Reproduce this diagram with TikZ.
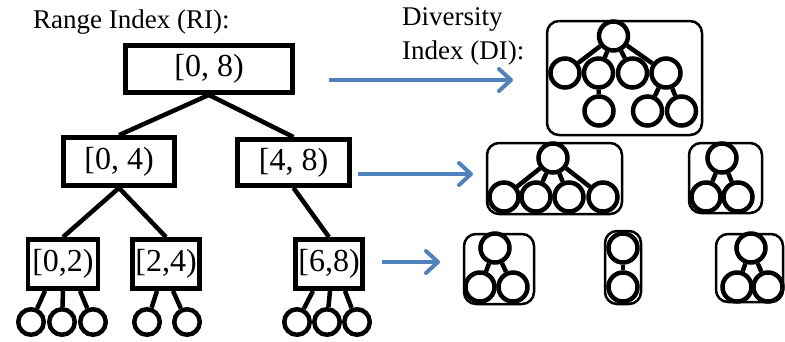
\documentclass[tikz,border=0pt]{standalone}
\usepackage{fontspec}
\setmainfont{Liberation Serif}
\usetikzlibrary{arrows.meta,calc}
\definecolor{arrowblue}{RGB}{79,129,189}
\begin{document}
\begin{tikzpicture}[x=1pt,y=-1pt,
  ribox/.style={draw, line width=4.8pt, rectangle, inner sep=0pt, font=\fontsize{32}{36}\selectfont},
  rileaf/.style={draw, circle, line width=4.5pt, minimum size=25.5pt, inner sep=0pt, fill=white},
  dinode/.style={draw, circle, line width=4.5pt, minimum size=29pt, inner sep=0pt, fill=white},
  dibox/.style={draw, line width=2.5pt, rounded corners=12pt, rectangle, inner sep=0pt},
  edge/.style={line width=4.5pt},
  bluearrow/.style={draw=arrowblue, line width=4pt, -{Straight Barb[length=12pt,width=22pt,round]}},
  lbl/.style={font=\fontsize{27}{32}\selectfont, inner sep=0pt, anchor=base west}
]
\useasboundingbox (0,0) rectangle (785,341);

% labels
\node[lbl] (ril) at (33,28) {Range Index (RI):};
\node[lbl] (dil1) at (402,25) {Diversity};
\node[lbl] (dil2) at (402,59) {Index (DI):};

% range index boxes
\node[ribox, minimum width=167pt, minimum height=47pt] (r08) at (209,69) {[0, 8)};
\node[ribox, minimum width=111pt, minimum height=48pt] (r04) at (119,161.5) {[0, 4)};
\node[ribox, minimum width=112pt, minimum height=46pt] (r48) at (293.5,162.5) {[4, 8)};
\node[ribox, minimum width=70pt, minimum height=49pt] (r02) at (63,264) {[0,2)};
\node[ribox, minimum width=67pt, minimum height=49pt] (r24) at (166,264) {[2,4)};
\node[ribox, minimum width=67pt, minimum height=49pt] (r68) at (329,264) {[6,8)};

\draw[edge] (r08.south) -- (r04.north);
\draw[edge] (r08.south) -- (r48.north);
\draw[edge] (r04.south) -- (r02.north);
\draw[edge] (r04.south) -- (r24.north);
\draw[edge] (r48.south) -- (r68.north);

% leaves
\node[rileaf] (l1) at (31,322) {};
\node[rileaf] (l2) at (62,322) {};
\node[rileaf] (l3) at (93,322) {};
\node[rileaf] (l4) at (147,322) {};
\node[rileaf] (l5) at (187,322) {};
\node[rileaf] (l6) at (297,322) {};
\node[rileaf] (l7) at (327,322) {};
\node[rileaf] (l8) at (357,322) {};

\draw[edge] ($(r02.south)+(-18,0)$) -- (l1);
\draw[edge] ($(r02.south)+(0,0)$) -- (l2);
\draw[edge] ($(r02.south)+(17,0)$) -- (l3);
\draw[edge] ($(r24.south)+(-9,0)$) -- (l4);
\draw[edge] ($(r24.south)+(7,0)$) -- (l5);
\draw[edge] ($(r68.south)+(-16,0)$) -- (l6);
\draw[edge] ($(r68.south)+(1,0)$) -- (l7);
\draw[edge] ($(r68.south)+(16,0)$) -- (l8);

% arrows
\coordinate (a1s) at (329,80);
\coordinate (a1e) at (513,80);
\coordinate (a2s) at (358,174);
\coordinate (a2e) at (473,174);
\coordinate (a3s) at (382,262);
\coordinate (a3e) at (440,262);
\draw[bluearrow] (a1s) -- (a1e);
\draw[bluearrow] (a2s) -- (a2e);
\draw[bluearrow] (a3s) -- (a3e);

% diversity index boxes
\node[dibox, minimum width=155pt, minimum height=114pt] (d1) at (624.5,78) {};
\node[dibox, minimum width=135pt, minimum height=71pt] (d2) at (554.5,178.5) {};
\node[dibox, minimum width=73pt, minimum height=70pt] (d3) at (725.5,178) {};
\node[dibox, minimum width=70pt, minimum height=70pt] (d4) at (499,269) {};
\node[dibox, minimum width=36pt, minimum height=73pt] (d5) at (623,267.5) {};
\node[dibox, minimum width=67pt, minimum height=68pt] (d6) at (749.5,268) {};

% tree in d1
\node[dinode] (t1r) at (613.5,36) {};
\node[dinode] (t1a) at (565,73) {};
\node[dinode] (t1b) at (598.5,73) {};
\node[dinode] (t1c) at (632.5,73) {};
\node[dinode] (t1d) at (666,73) {};
\node[dinode] (t1e) at (599,111) {};
\node[dinode] (t1f) at (647.5,111) {};
\node[dinode] (t1g) at (681.5,111) {};
\draw[edge] (t1r) -- (t1a);
\draw[edge] (t1r) -- (t1b);
\draw[edge] (t1r) -- (t1c);
\draw[edge] (t1r) -- (t1d);
\draw[edge] (t1b) -- (t1e);
\draw[edge] (t1d) -- (t1f);
\draw[edge] (t1d) -- (t1g);

% tree in d2
\node[dinode] (t2r) at (553,158) {};
\node[dinode] (t2a) at (504,197) {};
\node[dinode] (t2b) at (536,197) {};
\node[dinode] (t2c) at (569,197) {};
\node[dinode] (t2d) at (603,197) {};
\draw[edge] (t2r) -- (t2a);
\draw[edge] (t2r) -- (t2b);
\draw[edge] (t2r) -- (t2c);
\draw[edge] (t2r) -- (t2d);

% tree in d3
\node[dinode] (t3r) at (722,158) {};
\node[dinode] (t3a) at (706,197) {};
\node[dinode] (t3b) at (738,197) {};
\draw[edge] (t3r) -- (t3a);
\draw[edge] (t3r) -- (t3b);

% tree in d4
\node[dinode] (t4r) at (495,248) {};
\node[dinode] (t4a) at (480,287) {};
\node[dinode] (t4b) at (513,287) {};
\draw[edge] (t4r) -- (t4a);
\draw[edge] (t4r) -- (t4b);

% tree in d5
\node[dinode] (t5r) at (623,248) {};
\node[dinode] (t5a) at (623,287) {};
\draw[edge] (t5r) -- (t5a);

% tree in d6
\node[dinode] (t6r) at (751,248) {};
\node[dinode] (t6a) at (737,287) {};
\node[dinode] (t6b) at (768,287) {};
\draw[edge] (t6r) -- (t6a);
\draw[edge] (t6r) -- (t6b);
\end{tikzpicture}
\end{document}
